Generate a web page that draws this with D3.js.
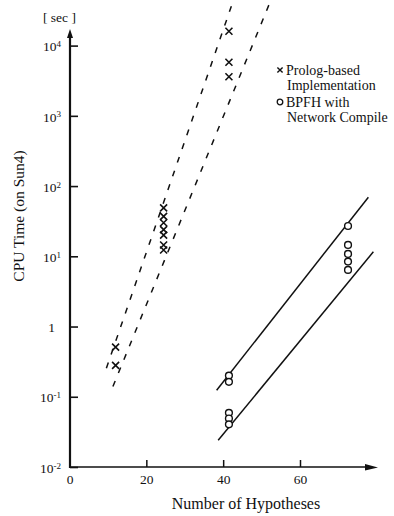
<!DOCTYPE html>
<html>
<head>
<meta charset="utf-8">
<script src="https://cdn.jsdelivr.net/npm/d3@7"></script>
<style>
  body { margin: 0; background: #fff; }
  svg { display: block; }
  text { font-family: "Liberation Serif", "Times New Roman", serif; fill: #111; }
</style>
</head>
<body>
<svg id="chart" width="394" height="516"></svg>
<script>
// tick values
const xTicks = [0, 20, 40, 60];
const yTicks = [1e-2, 1e-1, 1, 1e1, 1e2, 1e3, 1e4];

// Prolog-based implementation (crosses)
const prologHyp = [12, 12, 24.5, 24.5, 24.5, 24.5, 24.5, 24.5, 24.5, 41.5, 41.5, 41.5];
const prologSec = [0.51, 0.28, 49, 37, 30, 24, 20, 14.5, 12.3, 16000, 5800, 3600];

// BPFH with network compile (circles)
const bpfhHyp = [41.5, 41.5, 41.5, 41.5, 41.5, 72.5, 72.5, 72.5, 72.5, 72.5];
const bpfhSec = [0.2, 0.163, 0.059, 0.049, 0.0405, 27, 14.5, 10.8, 8.4, 6.4];

// hand-drawn bounding lines, endpoints as [hypotheses, seconds]
const dashedLines = [
  [[9.6, 0.255], [43, 50000]],
  [[11.3, 0.14], [52.8, 50000]]
];
const solidLines = [
  [[38.3, 0.124], [77.8, 69.5]],
  [[38.7, 0.024], [79.1, 11.6]]
];

const legendLabels = [
  ["Prolog-based", "Implementation"],
  ["BPFH with", "Network Compile"]
];

const svg = d3.select("#chart");

const x = d3.scaleLinear().domain([0, 60]).range([69.5, 300]);
const y = d3.scaleLog().domain([1e-2, 1e4]).range([467, 45.6]);

const axisX0 = 70;
const xEnd = 378;
const yTop = 29;

// x axis
const gx = svg.append("g")
  .attr("transform", `translate(0,${y(1e-2)})`)
  .call(d3.axisBottom(x).tickValues(xTicks).tickSize(-7).tickPadding(0).tickFormat(d3.format("d")));
gx.select(".domain").remove();
gx.selectAll(".tick line").attr("stroke", "#111").attr("stroke-width", 1.5);
gx.selectAll(".tick text")
  .attr("y", 17)
  .attr("dy", 0)
  .style("font-size", "13.5px")
  .style("font-family", "Liberation Serif, serif");

svg.append("line")
  .attr("x1", axisX0 - 1).attr("x2", xEnd - 10)
  .attr("y1", y(1e-2)).attr("y2", y(1e-2))
  .attr("stroke", "#111").attr("stroke-width", 1.6);
svg.append("path")
  .attr("d", `M${xEnd},${y(1e-2) + 0.5} L${xEnd - 13},${y(1e-2) - 3} L${xEnd - 13},${y(1e-2) + 3.5} Z`)
  .attr("fill", "#111");

// y axis
const gy = svg.append("g")
  .attr("transform", `translate(${axisX0},0)`)
  .call(d3.axisLeft(y).tickValues(yTicks).tickSize(-8).tickFormat(""));
gy.select(".domain").remove();
gy.selectAll(".tick line").attr("stroke", "#111").attr("stroke-width", 1.6);

svg.append("line")
  .attr("x1", axisX0).attr("x2", axisX0)
  .attr("y1", y(1e-2) + 1).attr("y2", yTop + 6)
  .attr("stroke", "#111").attr("stroke-width", 2.2);
svg.append("path")
  .attr("d", `M${axisX0},${yTop} L${axisX0 - 3},${yTop + 9} L${axisX0 + 3},${yTop + 9} Z`)
  .attr("fill", "#111");

const ylab = svg.append("g").selectAll("text")
  .data(yTicks)
  .join("text")
  .attr("x", d => d === 1 ? 55 : 61)
  .attr("y", d => y(d))
  .attr("dy", "0.42em")
  .attr("text-anchor", "end")
  .style("font-size", "13.5px");
ylab.each(function (d) {
  const t = d3.select(this);
  const e = Math.round(Math.log10(d));
  if (e === 0) { t.text("1"); return; }
  t.append("tspan").text("10");
  t.append("tspan").attr("dy", "-0.45em").style("font-size", "9px").text(e);
});

// "[ sec ]" unit
svg.append("text")
  .attr("x", 59.5).attr("y", 22)
  .attr("text-anchor", "middle")
  .style("font-size", "13.5px")
  .text("[ sec ]");

// axis titles
svg.append("text")
  .attr("x", 246).attr("y", 509)
  .attr("text-anchor", "middle")
  .style("font-size", "16px")
  .text("Number of Hypotheses");

svg.append("text")
  .attr("transform", `translate(24,216) rotate(-90)`)
  .attr("text-anchor", "middle")
  .style("font-size", "15.5px")
  .text("CPU Time (on Sun4)");

// lines
const line = d3.line().x(d => x(d[0])).y(d => y(d[1]));

svg.append("g").selectAll("path")
  .data(dashedLines)
  .join("path")
  .attr("d", line)
  .attr("fill", "none")
  .attr("stroke", "#111")
  .attr("stroke-width", 1.5)
  .attr("stroke-dasharray", "6,8.5");

svg.append("g").selectAll("path")
  .data(solidLines)
  .join("path")
  .attr("d", line)
  .attr("fill", "none")
  .attr("stroke", "#111")
  .attr("stroke-width", 1.5);

// markers
const cross = (r) => `M${-r},${-r}L${r},${r}M${-r},${r}L${r},${-r}`;

svg.append("g").selectAll("path")
  .data(prologHyp.map((h, i) => [h, prologSec[i]]))
  .join("path")
  .attr("transform", d => `translate(${x(d[0])},${y(d[1])})`)
  .attr("d", cross(3.5))
  .attr("fill", "none")
  .attr("stroke", "#111")
  .attr("stroke-width", 1.6);

svg.append("g").selectAll("circle")
  .data(bpfhHyp.map((h, i) => [h, bpfhSec[i]]))
  .join("circle")
  .attr("cx", d => x(d[0]))
  .attr("cy", d => y(d[1]))
  .attr("r", 3.4)
  .attr("fill", "#fff")
  .attr("stroke", "#111")
  .attr("stroke-width", 1.4);

// legend
const legend = svg.append("g").attr("transform", "translate(280,70)");
legend.append("path")
  .attr("d", cross(2.6))
  .attr("fill", "none").attr("stroke", "#111").attr("stroke-width", 1.4);
legend.append("circle")
  .attr("cy", 32).attr("r", 2.8)
  .attr("fill", "none").attr("stroke", "#111").attr("stroke-width", 1.3);

legend.selectAll("text.item")
  .data(legendLabels)
  .join("text")
  .attr("class", "item")
  .attr("x", 6)
  .attr("y", (d, i) => i * 32 + 4.5)
  .style("font-size", "14px")
  .each(function (d) {
    const t = d3.select(this);
    t.append("tspan").text(d[0]);
    t.append("tspan").attr("x", 7).attr("dy", 15).text(d[1]);
  });
</script>
</body>
</html>
